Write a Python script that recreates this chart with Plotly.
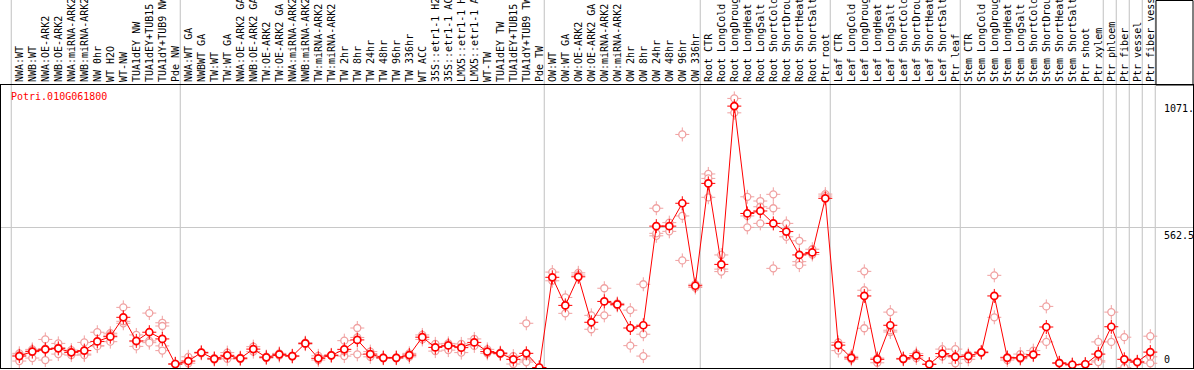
import plotly.graph_objects as go

labels = [
    "NWA:WT", "NWB:WT", "NWA:OE-ARK2", "NWB:OE-ARK2", "NWA:miRNA-ARK2", "NWB:miRNA-ARK2",
    "NW 0hr", "WT H2O", "WT-NW", "TUA1dEY NW", "TUA1dEY+TUB15", "TUA1dY+TUB9 NW", "Pde NW",
    "NWA:WT GA", "NWBWT GA", "TW:WT", "TW:WT GA", "NWA:OE-ARK2 GA", "NWB:OE-ARK2 GA",
    "TW:OE-ARK2", "TW:OE-ARK2 GA", "NWA:miRNA-ARK2", "NWB:miRNA-ARK2", "TW:miRNA-ARK2",
    "TW:miRNA-ARK2", "TW 2hr", "TW 8hr", "TW 24hr", "TW 48hr", "TW 96hr", "TW 336hr",
    "WT ACC", "35S::etr1-1 H2", "35S::etr1-1 AC", "LMX5::etr1-1 H", "LMX5::etr1-1 A",
    "WT-TW", "TUA1dEY TW", "TUA1dEY+TUB15", "TUA1dY+TUB9 TW", "Pde TW",
    "OW:WT", "OW:WT GA", "OW:OE-ARK2", "OW:OE-ARK2 GA", "OW:miRNA-ARK2", "OW:miRNA-ARK2",
    "OW 2hr", "OW 8hr", "OW 24hr", "OW 48hr", "OW 96hr", "OW 336hr",
    "Root CTR", "Root LongCold", "Root LongDroug", "Root LongHeat", "Root LongSalt",
    "Root ShortCold", "Root ShortDrou", "Root ShortHeat", "Root ShortSalt", "Ptr root",
    "Leaf CTR", "Leaf LongCold", "Leaf LongDroug", "Leaf LongHeat", "Leaf LongSalt",
    "Leaf ShortCold", "Leaf ShortDrou", "Leaf ShortHeat", "Leaf ShortSalt", "Ptr leaf",
    "Stem CTR", "Stem LongCold", "Stem LongDroug", "Stem LongHeat", "Stem LongSalt",
    "Stem ShortCold", "Stem ShortDrou", "Stem ShortHeat", "Stem ShortSalt", "Ptr shoot",
    "Ptr xylem", "Ptr phloem", "Ptr fiber", "Ptr vessel", "Ptr fiber vess",
]

means = [
    46, 64, 73, 77, 61, 68, 105, 124, 202, 107, 142, 115, 14,
    26, 60, 35, 49, 37, 74, 41, 53, 46, 97, 37, 49, 73, 111, 54, 39, 39, 50,
    122, 81, 89, 80, 101, 64, 57, 33, 57, 0,
    363, 250, 365, 182, 266, 254, 159, 170, 569, 569, 661, 329,
    741, 415, 1052, 620, 630, 580, 547, 453, 463, 681,
    90, 39, 288, 33, 170, 35, 48, 13, 56, 43,
    46, 61, 288, 39, 39, 52, 163, 18, 11, 13,
    54, 164, 33, 22, 62,
]

replicates = [
    [57, 26, 50], [73, 38, 70], [113, 30, 76], [97, 54, 80], [70, 50, 62], [101, 54, 50],
    [142, 88, 86], [138, 104, 130], [242, 178, 186], [131, 85, 104], [219, 107, 100],
    [180, 167, 87, 68], [12, 16],
    [43, 17], [62, 57], [38, 32], [60, 35], [40, 34], [84, 64], [44, 38], [57, 48],
    [48, 44], [100, 94], [47, 30], [51, 47], [108, 46, 65], [159, 53, 121], [64, 43],
    [41, 37], [41, 37], [57, 43],
    [131, 113], [95, 66], [97, 70], [95, 60], [115, 87], [73, 57], [60, 54], [46, 14],
    [178, 30, 22], [0, 0],
    [384, 349], [282, 218], [381, 372], [210, 154], [319, 210], [258, 250], [231, 88],
    [335, 134, 46], [641, 530, 540], [583, 548], [938, 610, 431], [335, 322],
    [779, 761, 685], [453, 396, 386], [1083, 1025], [687, 610, 564], [670, 647, 580],
    [697, 641, 399], [580, 526], [510, 426, 412], [476, 455], [698, 690],
    [101, 68], [45, 33], [387, 311, 158], [19, 38], [223, 143, 150], [37, 33], [56, 38],
    [12, 14], [74, 44], [74, 17],
    [52, 33], [63, 59], [371, 202], [30, 42], [54, 35], [68, 50], [246, 103], [16, 20],
    [10, 12], [12, 14],
    [103, 27, 22], [223, 103], [122, 0], [24, 20], [126, 43, 17],
]

gene = "Potri.010G061800"
ytick_vals = [1071.6, 562.5, 0]
ytick_text = ["1071.", "562.5", "0"]
group_ends = [0, 13, 41, 53, 63, 73, 84, 85, 86, 87, 88]

xs = list(range(1, len(labels) + 1))
rep_x, rep_y = [], []
for i, reps in enumerate(replicates):
    for v in reps:
        rep_x.append(xs[i])
        rep_y.append(v)

PINK = "#f0a0a0"
RED = "#ff0000"
FONT = "DejaVu Sans Mono"

W, H = 1194, 370
ML, MR, MT, MB = 1, 1, 85, 2
plot_w = W - ML - MR
plot_h = H - MT - MB

fig = go.Figure()
fig.add_trace(go.Scatter(x=rep_x, y=rep_y, mode="markers", hoverinfo="skip",
                         marker=dict(symbol="cross-thin-open", size=10, color=PINK,
                                     line=dict(color=PINK, width=1))))
fig.add_trace(go.Scatter(x=rep_x, y=rep_y, mode="markers",
                         marker=dict(symbol="circle", size=7, color="white",
                                     line=dict(color=PINK, width=1.3))))
fig.add_trace(go.Scatter(x=xs, y=means, mode="lines", line=dict(color=RED, width=1),
                         hoverinfo="skip"))
fig.add_trace(go.Scatter(x=xs, y=means, mode="markers", hoverinfo="skip",
                         marker=dict(symbol="cross-thin-open", size=10, color=RED,
                                     line=dict(color=RED, width=1))))
fig.add_trace(go.Scatter(x=xs, y=means, mode="markers",
                         marker=dict(symbol="circle", size=7, color="white",
                                     line=dict(color=RED, width=1.7))))

shapes = []
for g in group_ends:
    shapes.append(dict(type="line", xref="x", yref="paper", x0=g + 0.38, x1=g + 0.38,
                       y0=0, y1=1 + MT / plot_h, line=dict(color="#c0c0c0", width=1),
                       layer="below"))
# top-right box
bx0 = (1156 - ML) / plot_w
shapes.append(dict(type="rect", xref="paper", yref="paper", x0=bx0, x1=1.0,
                   y0=1.0, y1=1 + (MT - 0.5) / plot_h, line=dict(color="black", width=1)))

annotations = [dict(text=gene, xref="paper", yref="paper", x=(10 - ML) / plot_w,
                    y=(H - MB - 97) / plot_h, xanchor="left", yanchor="middle",
                    showarrow=False, borderpad=0, font=dict(family=FONT, size=10, color=RED))]
for v, t in zip(ytick_vals, ytick_text):
    annotations.append(dict(text=t, xref="paper", yref="y", x=(1163 - ML) / plot_w, y=v,
                            xanchor="left", yanchor="bottom" if v == 0 else "top",
                            yshift=2 if v == 0 else -1, showarrow=False, borderpad=0,
                            font=dict(family=FONT, size=10, color="black")))

fig.update_layout(
    width=W, height=H, margin=dict(l=ML, r=MR, t=MT, b=MB, autoexpand=False),
    paper_bgcolor="white", plot_bgcolor="white", showlegend=False,
    shapes=shapes, annotations=annotations,
    xaxis=dict(side="top", range=[-0.408, 91.285], tickmode="array", tickvals=xs,
               ticktext=labels, tickangle=-90, ticks="", showgrid=False, zeroline=False,
               showline=True, linecolor="black", linewidth=1, mirror=True,
               tickfont=dict(family=FONT, size=10, color="black"), automargin=False),
    yaxis=dict(range=[-2, 1137], tickmode="array", tickvals=[562.5], showticklabels=False,
               showgrid=True, gridcolor="#c8c8c8", gridwidth=1, zeroline=False,
               showline=True, linecolor="black", linewidth=1, mirror=True, automargin=False),
)

fig.write_html("out.html", config={"displayModeBar": False},
               post_script="document.body.style.margin='0';document.body.style.overflow='hidden';")
